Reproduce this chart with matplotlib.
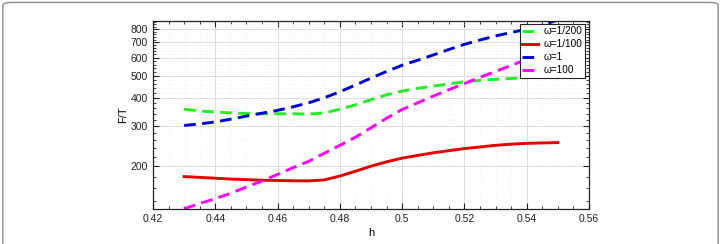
import numpy as np
import matplotlib.pyplot as plt
from matplotlib.ticker import FixedLocator, MultipleLocator, NullFormatter
from matplotlib.patches import FancyBboxPatch

plt.rcParams['font.family'] = ['Liberation Sans', 'DejaVu Sans']

h = np.array([0.430, 0.435, 0.440, 0.445, 0.450, 0.455, 0.460, 0.465, 0.470,
              0.475, 0.480, 0.485, 0.490, 0.495, 0.500, 0.505, 0.510, 0.515,
              0.520, 0.525, 0.530, 0.535, 0.540, 0.545, 0.550])

ft_w1_200 = [356, 350, 346, 343, 341, 340, 340, 340, 339, 343, 356, 372, 392,
             412, 428, 440, 450, 460, 470, 477, 482, 486, 490, 493, 496]
ft_w1_100 = [180, 178.5, 177, 175.5, 174.5, 173.5, 173, 172.5, 172.3, 174, 181,
             190, 200, 209, 217, 223, 229, 234, 239, 243, 247, 250, 252, 253, 254]
ft_w1 = [302, 307, 313, 322, 332, 342, 352, 365, 380, 400, 425, 455, 488,
         522, 556, 585, 617, 652, 687, 718, 748, 775, 800, 835, 880]
ft_w100 = [130, 137, 144, 152, 162, 172, 184, 197, 210, 228, 247, 268, 295,
           325, 355, 380, 407, 434, 462, 492, 522, 555, 590, 620, 650]

labels = ['\u03c9=1/200', '\u03c9=1/100', '\u03c9=1', '\u03c9=100']
yticks = [200, 300, 400, 500, 600, 700, 800]
xticks = [0.42, 0.44, 0.46, 0.48, 0.5, 0.52, 0.54, 0.56]

fig = plt.figure(figsize=(7.21, 2.44), dpi=100)
fig.patches.append(FancyBboxPatch((0.004, -0.2), 0.992, 1.19,
                                  boxstyle='round,pad=0,rounding_size=0.012',
                                  transform=fig.transFigure, facecolor='white',
                                  edgecolor='#8a8a8a', linewidth=1.0, zorder=-10))
ax = fig.add_axes([0.2122, 0.1447, 0.6048, 0.7705])

dash = (4.0, 2.2)
ax.plot(h, ft_w1_200, color='#22ee22', lw=2.1, dashes=dash, label=labels[0])
ax.plot(h, ft_w1_100, color='#e40000', lw=2.1, label=labels[1])
ax.plot(h, ft_w1, color='#0000d8', lw=2.1, dashes=dash, label=labels[2])
ax.plot(h, ft_w100, color='#ff00ff', lw=2.1, dashes=dash, label=labels[3])

ax.set_yscale('log')
ax.set_xlim(0.42, 0.56)
ax.set_ylim(130, 873)
ax.yaxis.set_major_locator(FixedLocator(yticks))
ax.yaxis.set_major_formatter(plt.FixedFormatter([str(v) for v in yticks]))
ax.yaxis.set_minor_locator(MultipleLocator(20))
ax.yaxis.set_minor_formatter(NullFormatter())
ax.set_xticks(xticks)
ax.set_xticklabels(['0.42', '0.44', '0.46', '0.48', '0.5', '0.52', '0.54', '0.56'])
ax.xaxis.set_minor_locator(MultipleLocator(0.005))

ax.tick_params(which='both', direction='in', top=True, right=True,
               labelsize=7.5, colors='#222222')
ax.tick_params(which='major', length=4, width=0.8)
ax.tick_params(which='minor', length=2, width=0.6)
ax.grid(which='major', color='#dcdcdc', lw=0.7)
ax.grid(which='minor', color='#efefef', lw=0.5, ls=':')
for s in ax.spines.values():
    s.set_linewidth(0.9)
    s.set_color('#222222')

ax.set_xlabel('h', fontsize=8, labelpad=3)
ax.set_ylabel('F/T', fontsize=8, labelpad=2)

leg = ax.legend(loc='upper right', bbox_to_anchor=(0.99, 0.985), fontsize=7.2,
                frameon=True, fancybox=False, edgecolor='#222222', framealpha=1,
                handlelength=1.6, handletextpad=0.5, borderpad=0.25,
                labelspacing=0.3, borderaxespad=0)
leg.get_frame().set_linewidth(0.8)

fig.savefig('out.png', dpi=100)
